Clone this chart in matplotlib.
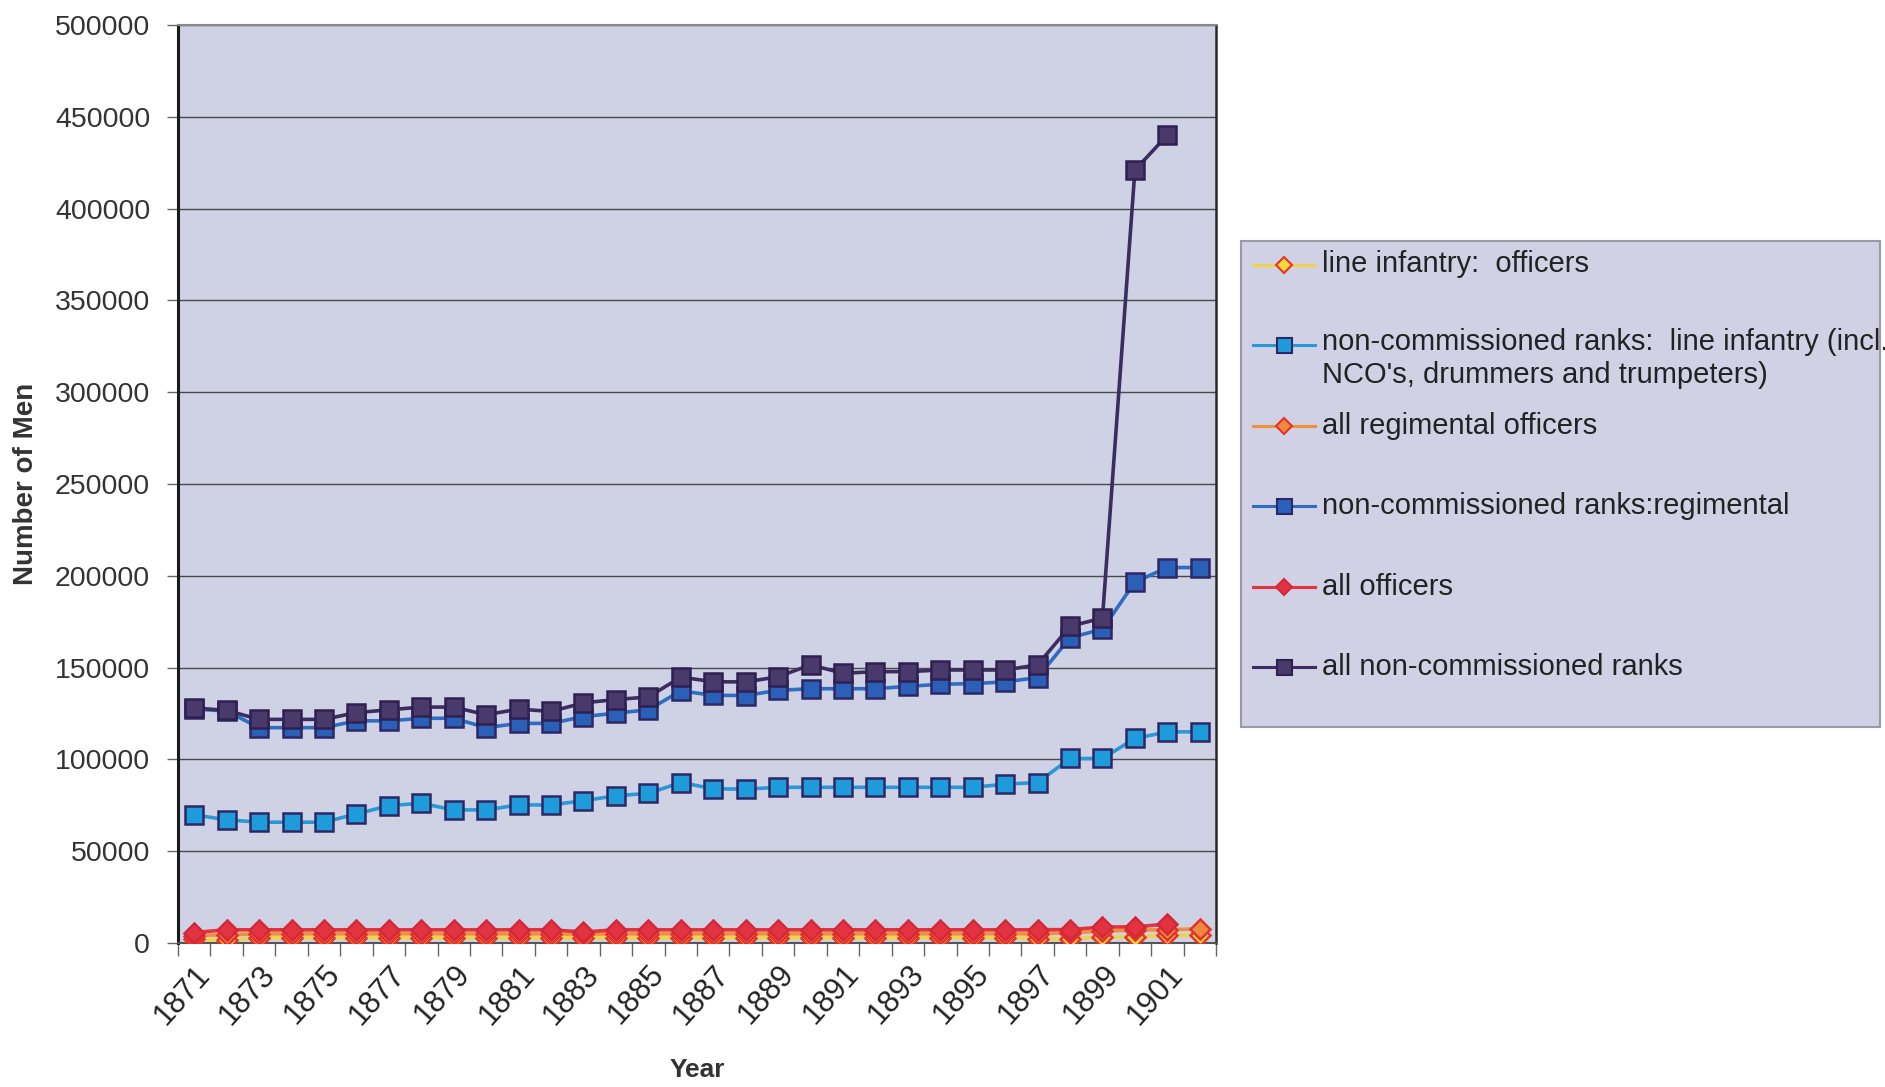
import numpy as np
import matplotlib
matplotlib.use("Agg")
import matplotlib.pyplot as plt
from matplotlib.lines import Line2D
from matplotlib.patches import Rectangle
from matplotlib.ticker import MultipleLocator, FixedLocator, FuncFormatter
from matplotlib.transforms import ScaledTranslation

plt.rcParams['font.family'] = ['Liberation Sans', 'DejaVu Sans']

nan = np.nan
years = list(range(1871, 1903))

line_inf_officers = [2000, 1500, 2800, 2800, 2800, 2800, 2800, 2800, 2800, 2800, 2800,
                     2800, 2800, 2800, 2800, 2800, 2800, 2800, 2800, 2800, 2800, 2800,
                     2800, 2800, 2800, 2800, 2300, 2300, 3200, 3200, 4200, 4200]
nco_line_inf = [69800, 67100, 65800, 65800, 65800, 70300, 74800, 76100, 72500, 72500,
                75200, 75200, 77500, 80200, 81500, 87400, 84000, 83800, 84800, 84800,
                84800, 84800, 84800, 84800, 84800, 86500, 87400, 100500, 100500, 111400,
                115000, 115000]
regimental_officers = [4000, 4500, 5000, 5000, 5000, 5000, 5000, 5000, 5000, 5000, 5000,
                       5000, 4800, 5000, 5000, 5000, 5000, 5000, 5000, 5000, 5000, 5000,
                       5000, 5000, 5000, 5000, 5000, 5600, 6500, 7000, 7300, 7700]
nco_regimental = [127500, 126300, 117300, 117300, 117300, 121000, 121000, 122400, 122400,
                  117300, 119600, 119600, 123300, 125200, 127000, 137300, 134900, 134800,
                  137600, 138500, 138500, 138500, 139800, 140900, 141300, 142200, 144600,
                  166300, 170900, 196600, 204500, 204500]
all_officers = [5700, 7200, 7200, 7200, 7200, 7200, 7200, 7200, 7200, 7200, 7200, 7200,
                6000, 7200, 7200, 7200, 7200, 7200, 7200, 7200, 7200, 7200, 7200, 7200,
                7200, 7200, 7200, 7300, 8700, 8800, 10300, nan]
nco_all = [128000, 126700, 121800, 121800, 121800, 125500, 127000, 128500, 128500, 124300,
           127400, 126100, 130800, 132600, 134000, 144800, 142300, 142200, 145000, 151500,
           146900, 147800, 147800, 148700, 148700, 148700, 151500, 172500, 177000, 421000,
           440000, nan]

labels = ["line infantry:  officers",
          "non-commissioned ranks:  line infantry (incl.\nNCO's, drummers and trumpeters)",
          "all regimental officers",
          "non-commissioned ranks:regimental",
          "all officers",
          "all non-commissioned ranks"]
series = [line_inf_officers, nco_line_inf, regimental_officers,
          nco_regimental, all_officers, nco_all]

# line colour, marker, marker face, marker edge, marker size
styles = [
    ("#F2D24A", "D", "#F7D83A", "#E8322E", 10.5),
    ("#2A98D6", "s", "#1E9BDB", "#2C2866", 13.5),
    ("#F0903C", "D", "#EE8A3E", "#E3312E", 10.5),
    ("#2E6DC2", "s", "#2A60B8", "#2C2866", 13.5),
    ("#E3343E", "D", "#E23340", "#D4283A", 10.5),
    ("#3D2C60", "s", "#4A3A6C", "#2E2050", 13.5),
]

W, H = 1885, 1087
fig = plt.figure(figsize=(W / 100, H / 100), dpi=100, facecolor="white")
ax_l, ax_r, ax_t, ax_b = 178, 1216, 25, 943
ax = fig.add_axes([ax_l / W, 1 - ax_b / H, (ax_r - ax_l) / W, (ax_b - ax_t) / H])
ax.set_facecolor("#CFD1E5")

x = np.arange(len(years))
for vals, (lc, mk, mf, me, ms) in zip(series, styles):
    ax.plot(x, vals, color=lc, lw=2.6, marker=mk, markersize=ms,
            markerfacecolor=mf, markeredgecolor=me, markeredgewidth=1.8, zorder=3)

ax.set_xlim(-0.5, len(years) - 0.5)
ax.set_ylim(0, 500000)
ax.yaxis.set_major_locator(MultipleLocator(50000))
ax.yaxis.set_major_formatter(FuncFormatter(lambda v, p: f"{int(v)}"))
ax.grid(axis="y", color="#4A4A4E", lw=1.0, zorder=1)
ax.set_axisbelow(True)

ax.set_xticks(x[::2])
ax.set_xticklabels([str(y) for y in years[::2]], rotation=48, ha="right", va="top",
                   rotation_mode="anchor", fontsize=22, color="#222222")
shift = ScaledTranslation(-9 / 100, 0, fig.dpi_scale_trans)
for t in ax.get_xticklabels():
    t.set_transform(t.get_transform() + shift)
ax.xaxis.set_minor_locator(FixedLocator(np.arange(-0.5, len(years), 1.0)))
ax.tick_params(axis="x", which="major", length=0, pad=12)
ax.tick_params(axis="x", which="minor", length=9, width=1, color="#666666", direction="out")
ax.tick_params(axis="y", which="major", length=8, width=1, color="#666666",
               labelsize=20.5, labelcolor="#333333", pad=12)

ax.spines["left"].set_color("#1A1A1A")
ax.spines["left"].set_linewidth(2.2)
ax.spines["bottom"].set_color("#555555")
ax.spines["bottom"].set_linewidth(1.5)
ax.spines["top"].set_color("#888888")
ax.spines["top"].set_linewidth(1.5)
ax.spines["right"].set_color("#2A2A2A")
ax.spines["right"].set_linewidth(1.8)

ax.set_xlabel("Year", fontsize=19, fontweight="bold", color="#333333")
ax.xaxis.set_label_coords(0.5, -(1070 - ax_b) / (ax_b - ax_t))
ax.xaxis.label.set_va("center")
ax.set_ylabel("Number of Men", fontsize=20, fontweight="bold", color="#333333")
ax.yaxis.set_label_coords(-(ax_l - 26) / (ax_r - ax_l), 0.5)
ax.yaxis.label.set_va("center")

# legend panel
def fx(px):
    return px / W

def fy(py):
    return 1 - py / H

fig.add_artist(Rectangle((fx(1241), fy(727)), fx(1880) - fx(1241), fy(241) - fy(727),
                         transform=fig.transFigure, facecolor="#D0D1E4",
                         edgecolor="#9A9AA6", lw=1.5, zorder=1))
entry_y = [264.5, 345, 425.6, 506, 586.7, 667]
for lab, (lc, mk, mf, me, ms), ey in zip(labels, styles, entry_y):
    fig.add_artist(Line2D([fx(1253), fx(1284), fx(1315)], [fy(ey)] * 3,
                          transform=fig.transFigure, color=lc, lw=2.2, marker=mk,
                          markevery=[1], markersize=ms * 0.8, markerfacecolor=mf,
                          markeredgecolor=me, markeredgewidth=1.5, zorder=2))
    if "\n" in lab:
        fig.text(fx(1322), fy(ey - 17), lab, ha="left", va="top", fontsize=21,
                 color="#222222", linespacing=1.22)
    else:
        fig.text(fx(1322), fy(ey), lab, ha="left", va="center", fontsize=21,
                 color="#222222")

fig.savefig("out.png", dpi=100, facecolor="white")
